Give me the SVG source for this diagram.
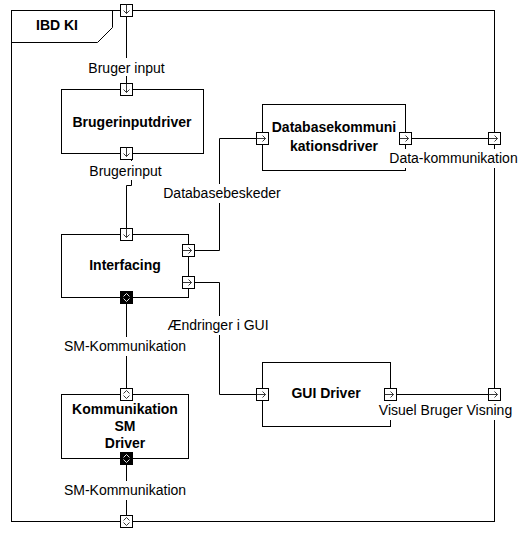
<svg xmlns="http://www.w3.org/2000/svg" width="522" height="539" viewBox="0 0 522 539">
<style>
.ln{fill:none;stroke:#000;stroke-width:1}
.box{fill:#fff;stroke:#000;stroke-width:1}
.t{font-family:"Liberation Sans",Arial,sans-serif;font-size:14px;fill:#000}
.b{font-weight:bold;text-anchor:middle}
.lbl{text-anchor:middle}
.bg{fill:#fff;stroke:none}
.ar{fill:none;stroke:#222;stroke-width:0.9}
.arw{fill:none;stroke:#fff;stroke-width:0.9}
</style>
<defs>
<g id="pD"><rect x="-6" y="-6" width="12" height="12" class="box"/><path class="ar" d="M0,-6V3M-3,0L0,3L3,0"/></g>
<g id="pR"><rect x="-6" y="-6" width="12" height="12" class="box"/><path class="ar" d="M-6,0H3M0,-3L3,0L0,3"/></g>
<g id="pB"><rect x="-6" y="-6" width="12" height="12" class="box"/><path class="ar" d="M-3,-1L0,-4L3,-1M-3,1L0,4L3,1"/></g>
<g id="pK"><rect x="-6" y="-6" width="12" height="12" fill="#000" stroke="#000"/><path class="arw" d="M-3,-1L0,-4L3,-1M-3,1L0,4L3,1"/></g>
</defs>
<rect width="522" height="539" fill="#fff"/>
<g id="frame">
<rect x="11.5" y="10.5" width="483" height="511" class="ln"/>
<path class="ln" d="M11.5,42.5H97.5L112.5,27.5V10.5"/>
<text x="36" y="30" class="t" font-weight="bold">IBD KI</text>
<use href="#pD" x="126.5" y="10.5"/>
<use href="#pR" x="494.5" y="138.5"/>
<use href="#pR" x="494.5" y="394.5"/>
<use href="#pB" x="126.5" y="521.5"/>
</g>
<g id="connectors">
<path class="ln" d="M126.5,16.5V83.5"/>
<path class="ln" d="M131.5,159.5V185.5H126.5V228.5"/>
<path class="ln" d="M194.5,250.5H219.5V138.5H256.5"/>
<path class="ln" d="M194.5,282.5H219.5V394.5H256.5"/>
<path class="ln" d="M126.5,303.5V388.5"/>
<path class="ln" d="M126.5,464.5V515.5"/>
<path class="ln" d="M411.5,138.5H488.5"/>
<path class="ln" d="M396.5,394.5H488.5"/>
</g>
<g id="brugerinputdriver">
<rect x="61.5" y="89.5" width="142" height="64" class="box"/>
<text x="132" y="127" class="t b">Brugerinputdriver</text>
<use href="#pD" x="126.5" y="89.5"/>
<use href="#pD" x="126.5" y="153.5"/>
</g>
<g id="databasekommunikationsdriver">
<rect x="262.5" y="104.5" width="143" height="66" class="box"/>
<text x="334" y="132" class="t b">Databasekommuni</text>
<text x="334" y="151" class="t b">kationsdriver</text>
<use href="#pR" x="262.5" y="138.5"/>
<use href="#pR" x="405.5" y="138.5"/>
</g>
<g id="interfacing">
<rect x="61.5" y="234.5" width="127" height="63" class="box"/>
<text x="125" y="270" class="t b">Interfacing</text>
<use href="#pD" x="126.5" y="234.5"/>
<use href="#pR" x="188.5" y="250.5"/>
<use href="#pR" x="188.5" y="282.5"/>
<use href="#pK" x="126.5" y="297.5"/>
</g>
<g id="guidriver">
<rect x="262.5" y="362.5" width="128" height="64" class="box"/>
<text x="326" y="398" class="t b">GUI Driver</text>
<use href="#pR" x="262.5" y="394.5"/>
<use href="#pR" x="390.5" y="394.5"/>
</g>
<g id="kommunikationsmdriver">
<rect x="61.5" y="394.5" width="127" height="64" class="box"/>
<text x="125" y="414" class="t b">Kommunikation</text>
<text x="125" y="431" class="t b">SM</text>
<text x="125" y="448" class="t b">Driver</text>
<use href="#pB" x="126.5" y="394.5"/>
<use href="#pK" x="126.5" y="458.5"/>
</g>
<g id="labels">
<rect class="bg" x="87" y="58" width="79" height="18"/>
<text x="126.5" y="73" class="t lbl">Bruger input</text>
<rect class="bg" x="88" y="161" width="76" height="19"/>
<text x="125.5" y="176" class="t lbl">Brugerinput</text>
<rect class="bg" x="162" y="184" width="120" height="19"/>
<text x="222" y="198" class="t lbl">Databasebeskeder</text>
<rect class="bg" x="166" y="316" width="104" height="19"/>
<text x="218" y="330" class="t lbl">Ændringer i GUI</text>
<rect class="bg" x="63" y="337" width="125" height="19"/>
<text x="125" y="351" class="t lbl">SM-Kommunikation</text>
<rect class="bg" x="63" y="481" width="125" height="19"/>
<text x="125" y="495" class="t lbl">SM-Kommunikation</text>
<rect class="bg" x="388" y="149" width="131" height="19"/>
<text x="453.5" y="163" class="t lbl">Data-kommunikation</text>
<rect class="bg" x="377" y="401" width="137" height="19"/>
<text x="445.5" y="415" class="t lbl">Visuel Bruger Visning</text>
</g>
</svg>
